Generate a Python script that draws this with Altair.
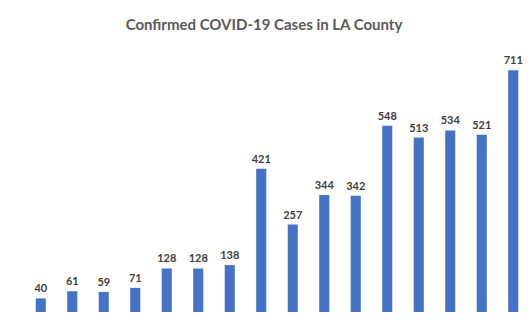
import altair as alt
import pandas as pd

dates = ["20-Mar", "21-Mar", "22-Mar", "23-Mar", "24-Mar", "25-Mar", "26-Mar", "27-Mar",
         "28-Mar", "29-Mar", "30-Mar", "31-Mar", "1-Apr", "2-Apr", "3-Apr", "4-Apr"]
cases = [40, 61, 59, 71, 128, 128, 138, 421, 257, 344, 342, 548, 513, 534, 521, 711]
y_ticks = [0, 100, 200, 300, 400, 500, 600, 700, 800]

df = pd.DataFrame({"date": dates, "cases": cases})

x = alt.X("date:N", sort=dates, title=None,
          scale=alt.Scale(paddingInner=0.68, paddingOuter=0.34),
          axis=alt.Axis(labelAngle=0, labelFontSize=7, labelColor="#595959",
                        labelFont="Lato", labelPadding=4,
                        domainColor="#d9d9d9", tickColor="#d9d9d9", tickSize=4,
                        bandPosition=0, grid=False))
y = alt.Y("cases:Q", title=None,
          scale=alt.Scale(domain=[0, 800], nice=False),
          axis=alt.Axis(values=y_ticks, labelFontSize=7, labelColor="#595959",
                        labelFont="Lato", labelPadding=3, domain=False, ticks=False,
                        labelOverlap=False,
                        gridColor="#d9d9d9", gridWidth=1))

bars = alt.Chart(df).mark_bar(color="#4472C4").encode(x=x, y=y)
labels = alt.Chart(df).mark_text(dy=-6, baseline="alphabetic", fontSize=11,
                                  fontWeight="bold", color="#404040",
                                  font="Lato").encode(
    x=alt.X("date:N", sort=dates, axis=None),
    y=alt.Y("cases:Q", axis=None),
    text="cases:Q")

chart = alt.layer(bars, labels).properties(
    width=504, height=272,
    background="white",
    padding={"left": 25, "top": 40, "right": 3, "bottom": 19},
    autosize=alt.AutoSizeParams(type="none"),
    view=alt.ViewBackground(stroke="transparent", strokeWidth=0),
    title=alt.TitleParams("Confirmed COVID-19 Cases in LA County", fontSize=15,
                          font="Lato", fontWeight="bold", color="#595959",
                          anchor="middle", dx=-13, offset=7),
).configure_view(stroke="transparent", strokeWidth=0)

chart.save("out.html", embed_options={"renderer": "svg", "actions": False})
